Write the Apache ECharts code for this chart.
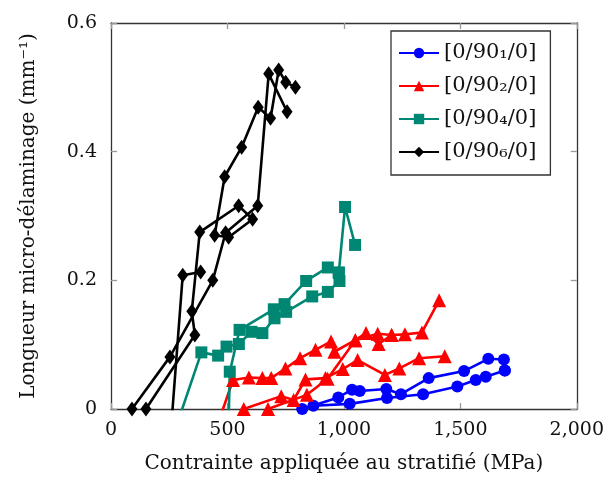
<!DOCTYPE html>
<html><head><meta charset="utf-8">
<script src="https://cdn.jsdelivr.net/npm/echarts@6/dist/echarts.min.js"></script>
<style>html,body{margin:0;padding:0;background:#fff}#c{width:607px;height:483px}</style>
</head><body><div id="c"></div>
<script>
const seriesNames = ['[0/90\u2081/0]', '[0/90\u2082/0]', '[0/90\u2084/0]', '[0/90\u2086/0]'];
const xTicks = [0, 500, 1000, 1500, 2000];
const yTicks = [0, 0.2, 0.4, 0.6];

// [0/90_1/0] specimens
const s1a = [[821,0],[976,0.018],[1035,0.030],[1068,0.028],[1182,0.031],[1245,0.023],[1364,0.048],[1516,0.059],[1620,0.078],[1687,0.077],[1691,0.060]];
const s1b = [[869,0.005],[1025,0.008],[1185,0.017],[1340,0.023],[1487,0.035],[1566,0.045],[1609,0.050],[1691,0.060]];
// [0/90_2/0] specimens
const s2a = [[475,-0.006],[524,0.045],[592,0.049],[650,0.048],[688,0.048],[749,0.063],[812,0.079],[878,0.092],[945,0.105],[959,0.089],[1049,0.107],[1145,0.117],[1205,0.115],[1262,0.116],[1335,0.119],[1409,0.169]];
const s2b = [[570,0],[731,0.020],[784,0.014],[835,0.046],[921,0.048],[995,0.062],[1059,0.076],[1176,0.053],[1238,0.063],[1323,0.079],[1433,0.082]];
const s2c = [[674,0],[841,0.022],[930,0.047],[1049,0.107],[1095,0.118],[1149,0.101],[1205,0.115]];
// [0/90_4/0] specimens
const s4a = [[300,-0.006],[388,0.088],[460,0.083],[496,0.097],[549,0.101],[603,0.120],[650,0.118],[702,0.141],[752,0.151],[864,0.175],[931,0.182],[981,0.199],[978,0.212],[1005,0.314],[1048,0.255]];
const s4b = [[506,-0.006],[510,0.058],[552,0.123],[699,0.155],[745,0.163],[838,0.199],[931,0.220],[978,0.212]];
// [0/90_6/0] specimens
const s6a = [[90,0],[253,0.081],[437,0.200],[492,0.274],[630,0.316],[677,0.521],[756,0.462]];
const s6b = [[150,0],[360,0.115],[347,0.152],[381,0.275],[548,0.316],[608,0.295],[505,0.267],[445,0.270],[488,0.361],[561,0.407],[632,0.469],[685,0.452],[720,0.527],[750,0.508],[792,0.500]];
const s6c = [[263,-0.006],[308,0.208],[385,0.213]];

const groups = [
  {name: seriesNames[0], color: '#0000ff', symbol: 'circle', size: 12, data: [s1a, s1b]},
  {name: seriesNames[1], color: '#ff0000', symbol: 'triangle', size: 14, data: [s2a, s2b, s2c]},
  {name: seriesNames[2], color: '#008773', symbol: 'rect', size: 12, data: [s4a, s4b]},
  {name: seriesNames[3], color: '#000000', symbol: 'diamond', size: 12, data: [s6a, s6b, s6c]}
];

const series = [];
groups.forEach(g => {
  g.data.forEach(arr => {
    series.push({
      name: g.name, type: 'line', clip: true,
      symbol: g.symbol, symbolSize: g.symbol === 'diamond' ? [11, 15] : g.size,
      showAllSymbol: true,
      lineStyle: {color: g.color, width: 2.6},
      itemStyle: {color: g.color},
      emphasis: {disabled: true},
      data: arr.map(p => p[1] < 0 ? {value: p, symbol: 'none'} : p)
    });
  });
});

const font = 'DejaVu Serif';
const axisCommon = {
  axisLine: {show: true, onZero: false, lineStyle: {color: '#333', width: 1.3}},
  axisTick: {show: true, inside: true, length: 6, lineStyle: {color: '#999', width: 1.3}},
  splitLine: {show: false}
};

const chart = echarts.init(document.getElementById('c'), null, {renderer: 'canvas'});
chart.setOption({
  animation: false,
  backgroundColor: '#fff',
  grid: {left: 111, right: 29, top: 23, bottom: 74},
  legend: {
    data: seriesNames,
    orient: 'vertical', left: 391, top: 31,
    backgroundColor: '#fff', borderColor: '#333', borderWidth: 1.3,
    padding: [11, 14, 12, 7], itemGap: 11, itemWidth: 40, itemHeight: 13,
    textStyle: {fontFamily: font, fontSize: 21, color: '#111', lineHeight: 22}
  },
  xAxis: [
    Object.assign({type: 'value', min: 0, max: 2000, interval: 500, position: 'bottom',
      name: 'Contrainte appliquée au stratifié (MPa)', nameLocation: 'middle', nameGap: 45,
      nameTextStyle: {fontFamily: font, fontSize: 20, color: '#111'},
      axisLabel: {fontFamily: font, fontSize: 19, color: '#111', margin: 12,
        formatter: v => v.toLocaleString('en-US')}}, axisCommon),
    Object.assign({type: 'value', min: 0, max: 2000, interval: 500, position: 'top',
      axisLabel: {show: false}}, axisCommon)
  ],
  yAxis: [
    Object.assign({type: 'value', min: 0, max: 0.6, interval: 0.2, position: 'left',
      name: 'Longueur micro-délaminage (mm\u207B\u00B9)', nameLocation: 'middle', nameGap: 72,
      nameTextStyle: {fontFamily: font, fontSize: 20, color: '#111'},
      axisLabel: {fontFamily: font, fontSize: 19, color: '#111', margin: 14,
        formatter: v => v === 0 ? '0' : v.toFixed(1)}}, axisCommon),
    Object.assign({type: 'value', min: 0, max: 0.6, interval: 0.2, position: 'right',
      axisLabel: {show: false}}, axisCommon)
  ],
  series: series
});
</script></body></html>
